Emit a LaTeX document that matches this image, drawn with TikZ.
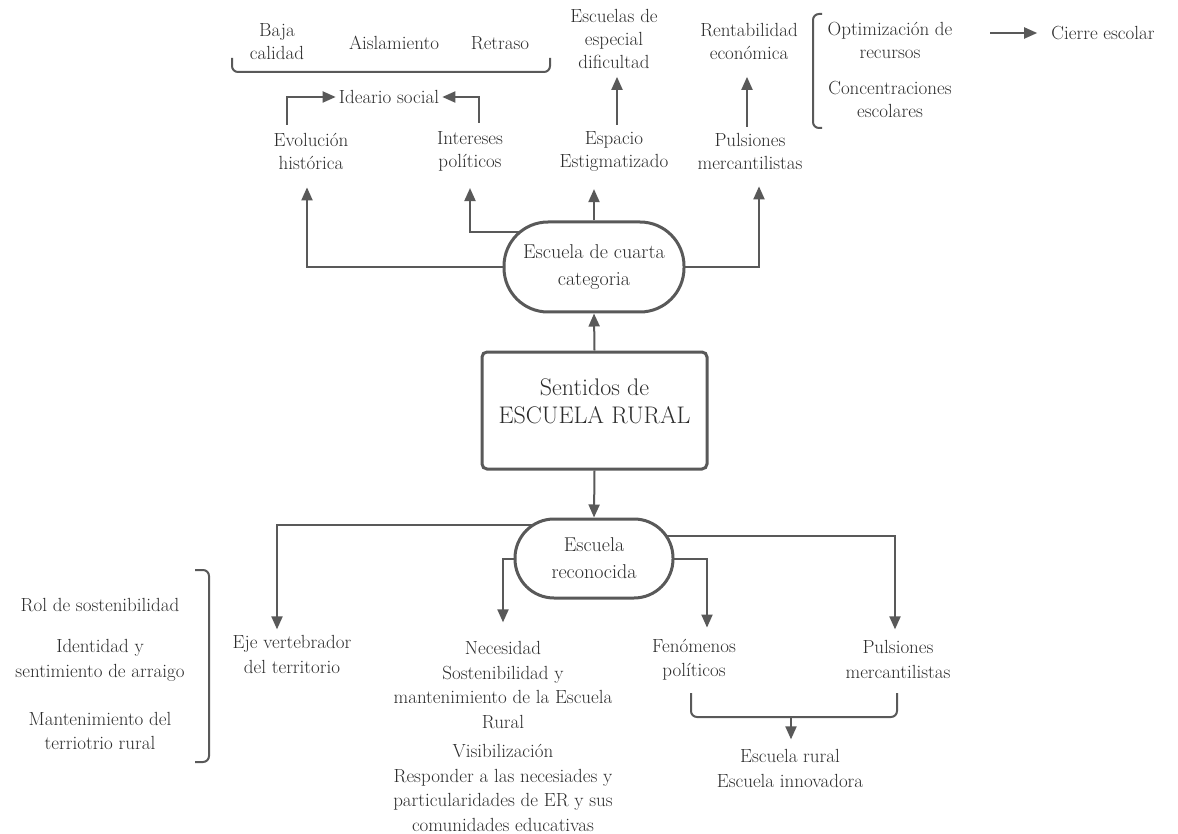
\documentclass[tikz,border=0pt]{standalone}
\usepackage{fontspec}
\usetikzlibrary{arrows.meta,backgrounds,calc}
\definecolor{tc}{HTML}{2C2C2C}
\definecolor{lc}{HTML}{595959}
\begin{document}
\begin{tikzpicture}[x=1pt,y=-1pt,
 txt/.style={align=center,text=tc,font=\fontsize{19}{23}\selectfont,inner sep=3pt},
 btxt/.style={align=center,text=tc,font=\fontsize{19}{24.5}\selectfont,inner sep=3pt},
 arr/.style={draw=lc,line width=2pt,-{Triangle[length=13pt,width=11pt]}},
 brk/.style={draw=lc,line width=2pt,rounded corners=6pt},
 pill/.style={draw=lc,line width=3pt,fill=white,align=center,text=tc,font=\fontsize{20}{27}\selectfont},
]
\useasboundingbox (0,0) rectangle (1178,834);

% top area
\node[txt] (baja) at (277,42) {Baja\\calidad};
\node[txt] (ais) at (394,43) {Aislamiento};
\node[txt] (ret) at (500,43) {Retraso};
\node[txt] (idea) at (389,97) {Ideario social};
\node[txt] (evo) at (311,151) {Evolución\\histórica};
\node[txt] (inter) at (470,151) {Intereses\\políticos};
\node[txt] (esp) at (614,151) {Espacio\\Estigmatizado};
\node[txt] (puls) at (750,151) {Pulsiones\\mercantilistas};
\node[txt] (escd) at (614,39) {Escuelas de\\especial\\dificultad};
\node[txt] (rent) at (749,41) {Rentabilidad\\económica};
\node[txt] (opt) at (890,40) {Optimización de\\recursos};
\node[txt] (conc) at (890,99) {Concentraciones\\escolares};
\node[txt,inner xsep=14pt] (cierre) at (1103,33) {Cierre escolar};
\coordinate (cs) at (990,33);

% central column
\node[pill,minimum width=180pt,minimum height=90pt,rounded corners=44pt] (cuarta) at (594,267) {Escuela de cuarta\\categoria};
\node[draw=lc,line width=3pt,fill=white,rounded corners=5pt,minimum width=225pt,minimum height=117pt,
      align=center,text=tc,font=\fontsize{24}{28}\selectfont,text depth=18pt] (sent) at (594.5,410.5) {Sentidos de\\ESCUELA RURAL};
\node[pill,minimum width=158pt,minimum height=79pt,rounded corners=39pt] (reco) at (594,558.5) {Escuela\\reconocida};

% bottom area
\node[btxt] (eje) at (292,654.5) {Eje vertebrador\\del territorio};
\node[btxt] (rol) at (100,605) {Rol de sostenibilidad};
\node[btxt] (ident) at (100,660.5) {Identidad y\\sentimiento de arraigo};
\node[btxt] (mant) at (100,731) {Mantenimiento del\\terriotrio rural};
\node[btxt] (nec) at (503,736.5) {Necesidad\\Sostenibilidad y\\mantenimiento de la Escuela\\Rural\\[5pt]Visibilización\\Responder a las necesiades y\\particularidades de ER y sus\\comunidades educativas};
\node[btxt] (fen) at (694,659.5) {Fenómenos\\políticos};
\node[btxt] (pulsb) at (898,659.5) {Pulsiones\\mercantilistas};
\node[btxt] (er) at (790,768.5) {Escuela rural\\Escuela innovadora};
\coordinate (bm) at (791,717);

\begin{scope}[on background layer]
% top brackets
\draw[brk] (232,58) -- (232,72) -- (550,72) -- (550,58);
\draw[brk] (822,14) -- (813,14) -- (813,128) -- (822,128);
\draw[arr] (cs) -- (cierre);
% ideario
\draw[arr] ($(evo.north)+(-24,-5)$) |- (idea.west);
\draw[arr] ($(inter.north)+(9,-5)$) |- (idea.east);
% up arrows
\draw[arr] ($(esp.north)+(3,-3)$) -- ($(escd.south)+(3,5)$);
\draw[arr] ($(rent.south |- puls.north)+(-2,-3)$) -- ($(rent.south |- escd.south)+(-2,5)$);
% from cuarta
\draw[arr] (cuarta.center) -| ($(evo.south)+(-4,15)$);
\draw[arr] ($(cuarta.center)+(0,-35)$) -| ($(inter.south)+(0,14)$);
\coordinate (espb) at ($(esp.south)+(0,15)$);
\draw[arr] (cuarta.north) -- (cuarta.north |- espb);
\draw[arr] (cuarta.center) -| ($(puls.south)+(9,14)$);
% central
\draw[arr] (sent.north) -- (cuarta.south);
\draw[arr] (sent.south) -- (reco.north);
% from reco
\draw[arr] ($(reco.center)+(0,-34)$) -| ($(eje.north)+(-15,-3)$);
\draw[arr] (reco.center) -| ($(nec.north)+(0,-16)$);
\draw[arr] ($(reco.center)+(0,-23)$) -| ($(pulsb.north)+(-3,-8)$);
\draw[arr] (reco.center) -| ($(fen.north)+(13,-8)$);
% bottom brackets
\draw[brk] (195,570) -- (209,570) -- (209,762) -- (195,762);
\draw[brk] (691,693) -- (691,717) -- (897,717) -- (897,693);
\draw[arr] (bm) -- ($(bm |- er.north)+(0,-7)$);
\end{scope}
\end{tikzpicture}
\end{document}
